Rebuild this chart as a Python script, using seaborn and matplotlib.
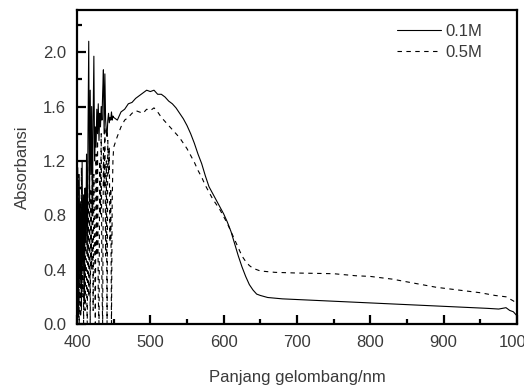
import matplotlib
matplotlib.use("Agg")
import matplotlib.pyplot as plt
import seaborn as sns
import pandas as pd
from matplotlib.ticker import MultipleLocator

# ---- data ----
noise_wl = list(range(400, 451))
solid_noise = [0.20, 1.15, 0.05, 1.10, 0.30, 0.90, 0.10, 1.20, 0.40, 0.95,
               0.15, 1.00, 0.60, 1.25, 0.50, 1.40, 2.08, 0.90, 1.72, 1.10,
               1.60, 0.80, 1.50, 1.97, 1.20, 1.45, 1.30, 1.58, 1.40, 1.62,
               1.35, 1.55, 1.45, 1.60, 1.50, 1.70, 1.87, 1.40, 1.84, 1.50,
               1.42, 1.38, 1.50, 1.55, 1.48, 1.52, 1.50, 1.56, 1.50, 1.53,
               1.52]
dashed_noise = [1.20, 0.10, 1.10, 0.00, 0.90, 0.05, 1.15, 0.20, 0.80, 0.00,
                0.70, 0.10, 1.00, 0.30, 0.00, 0.90, 0.20, 1.20, 0.00, 1.00,
                0.40, 1.30, 0.10, 1.10, 0.60, 0.00, 1.25, 0.50, 1.35, 0.20,
                0.00, 1.20, 0.80, 1.40, 0.30, 0.00, 1.30, 1.00, 1.45, 0.50,
                1.20, 0.00, 1.35, 1.10, 1.30, 0.60, 1.00, 0.00, 0.90, 1.20,
                1.30]

solid_wl = [455, 460, 465, 470, 475, 480, 485, 490, 495, 500, 505, 510, 515,
            520, 525, 530, 535, 540, 545, 550, 555, 560, 565, 570, 575, 580,
            585, 590, 595, 600, 605, 610, 615, 620, 625, 630, 635, 640, 645,
            650, 660, 670, 680, 700, 720, 740, 760, 780, 800, 820, 840, 860,
            880, 900, 920, 940, 960, 975, 985, 990, 995, 1000]
solid_abs = [1.50, 1.56, 1.58, 1.62, 1.63, 1.66, 1.68, 1.70, 1.72, 1.71, 1.72,
             1.69, 1.69, 1.67, 1.64, 1.62, 1.59, 1.55, 1.51, 1.46, 1.40, 1.33,
             1.25, 1.18, 1.09, 1.01, 0.96, 0.91, 0.86, 0.81, 0.75, 0.68, 0.59,
             0.50, 0.42, 0.35, 0.29, 0.25, 0.22, 0.21, 0.195, 0.19, 0.185,
             0.18, 0.175, 0.17, 0.165, 0.16, 0.155, 0.15, 0.145, 0.14, 0.135,
             0.13, 0.125, 0.12, 0.115, 0.11, 0.12, 0.10, 0.09, 0.06]

dashed_wl = [455, 460, 465, 470, 475, 480, 485, 490, 495, 500, 505, 510, 515,
             520, 525, 530, 535, 540, 545, 550, 555, 560, 565, 570, 575, 580,
             585, 590, 595, 600, 605, 610, 615, 620, 625, 630, 635, 640, 645,
             650, 670, 700, 750, 780, 800, 830, 860, 890, 920, 950, 970, 985,
             995, 1000]
dashed_abs = [1.38, 1.45, 1.50, 1.52, 1.55, 1.57, 1.56, 1.55, 1.58, 1.57, 1.59,
              1.56, 1.52, 1.49, 1.46, 1.43, 1.40, 1.37, 1.33, 1.29, 1.24, 1.19,
              1.13, 1.08, 1.02, 0.97, 0.92, 0.88, 0.84, 0.79, 0.74, 0.68, 0.62,
              0.56, 0.50, 0.46, 0.43, 0.41, 0.40, 0.39, 0.38, 0.375, 0.37,
              0.355, 0.35, 0.33, 0.30, 0.27, 0.25, 0.23, 0.21, 0.20, 0.17, 0.15]

labels = ["0.1M", "0.5M"]
x_ticks = [400, 500, 600, 700, 800, 900, 1000]
y_ticks = [0.0, 0.4, 0.8, 1.2, 1.6, 2.0]

df1 = pd.DataFrame({"wl": noise_wl + solid_wl, "A": solid_noise + solid_abs})
df2 = pd.DataFrame({"wl": noise_wl + dashed_wl, "A": dashed_noise + dashed_abs})

# ---- style ----
sns.set_style("ticks")
plt.rcParams["font.family"] = ["Liberation Sans", "DejaVu Sans"]

fig = plt.figure(figsize=(5.24, 3.85), dpi=100)
ax = fig.add_axes([77 / 524, 1 - 324 / 385, 440 / 524, 314 / 385])

sns.lineplot(data=df1, x="wl", y="A", ax=ax, color="black", lw=0.8,
             estimator=None, sort=False, label=labels[0])
sns.lineplot(data=df2, x="wl", y="A", ax=ax, color="black", lw=0.8,
             estimator=None, sort=False, linestyle=(0, (4, 4)), label=labels[1])

ax.set_xlim(400, 1000)
ax.set_ylim(0, 2.31)
ax.set_xticks(x_ticks)
ax.set_yticks(y_ticks)
ax.set_yticklabels([f"{v:.1f}" for v in y_ticks])
ax.xaxis.set_minor_locator(MultipleLocator(50))
ax.yaxis.set_minor_locator(MultipleLocator(0.2))

for s in ax.spines.values():
    s.set_linewidth(1.6)
    s.set_color("black")
ax.tick_params(which="both", direction="in", top=False, right=False,
               color="black", labelcolor="#3a3a3a", labelsize=12)
ax.tick_params(which="major", length=6.5, width=1.6, pad=8)
ax.tick_params(which="minor", length=3.6, width=1.6)

ax.set_xlabel("Panjang gelombang/nm", fontsize=12, color="#3a3a3a", labelpad=14)
ax.set_ylabel("Absorbansi", fontsize=12, color="#3a3a3a", labelpad=9)

leg = ax.legend(loc="upper right", bbox_to_anchor=(0.922, 0.955), frameon=False,
                fontsize=12, handlelength=2.6, handletextpad=0.3,
                labelspacing=0.35, borderpad=0, borderaxespad=0)
for t in leg.get_texts():
    t.set_color("#3a3a3a")

fig.savefig("out.png", dpi=100)
